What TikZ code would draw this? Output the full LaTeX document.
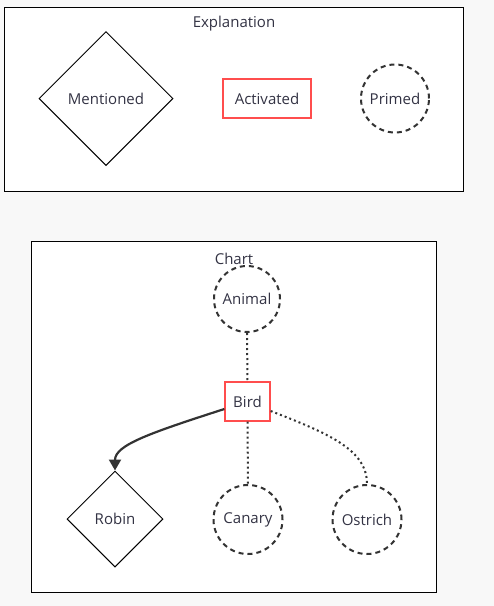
\documentclass[tikz,border=0pt]{standalone}
\usepackage{fontspec}
\setmainfont{Open Sans}
\usetikzlibrary{shapes.geometric,arrows.meta}
\definecolor{bg}{HTML}{F8F8F8}
\definecolor{txt}{HTML}{333344}
\definecolor{redline}{HTML}{FF4D4D}
\definecolor{edge}{HTML}{333333}
\begin{document}
\begin{tikzpicture}[x=1pt,y=-1pt,
  every node/.style={font=\fontsize{15}{18}\selectfont, text=txt},
  panel/.style={draw=black, fill=white, line width=0.8pt},
  mentioned/.style={draw=black, line width=1pt, diamond, minimum width=#1, minimum height=#1, inner sep=0pt},
  activated/.style={draw=redline, line width=1.3pt, rectangle, minimum height=39pt, inner sep=0pt},
  primed/.style={draw=edge, circle, dash pattern=on 5pt off 4pt, line width=2pt, minimum size=#1, inner sep=0pt},
  dotline/.style={draw=edge, line width=2pt, dash pattern=on 2pt off 3pt},
  solidline/.style={draw=edge, line width=2.2pt}
]
\fill[bg] (0,0) rectangle (494,606);
\useasboundingbox (0,0) rectangle (494,606);
% panels
\draw[panel] (4,7) rectangle (463,191);
\node (explabel) at (234,23.5) {Explanation};
\node[mentioned=134pt] (mentioned) at (106,98.5) {Mentioned};
\node[activated, minimum width=88pt] (activated) at (267,98.5) {Activated};
\node[primed=68pt] (primed) at (395,98.5) {Primed};

\draw[panel] (31,241) rectangle (436,592);
\node (chartlabel) at (234,258.5) {Chart};
\node[primed=66pt] (animal) at (247,299) {Animal};
\node[activated, minimum width=45pt] (bird) at (247.5,401.5) {Bird};
\node[mentioned=96pt] (robin) at (115,519) {Robin};
\node[primed=69pt] (canary) at (248,519.5) {Canary};
\node[primed=69pt] (ostrich) at (367,519.5) {Ostrich};

\draw[dotline] (animal.south) -- (bird.north);
\draw[dotline] (bird.south) -- (canary.north);
\draw[dotline] (bird.east |- 0,411) .. controls (330,434) and (367,450) .. (ostrich.north);
\draw[solidline, -{Triangle[length=11pt,width=12pt]}] (bird.west |- 0,409) .. controls (150,433) and (115,445) .. (robin.north);
\end{tikzpicture}
\end{document}
